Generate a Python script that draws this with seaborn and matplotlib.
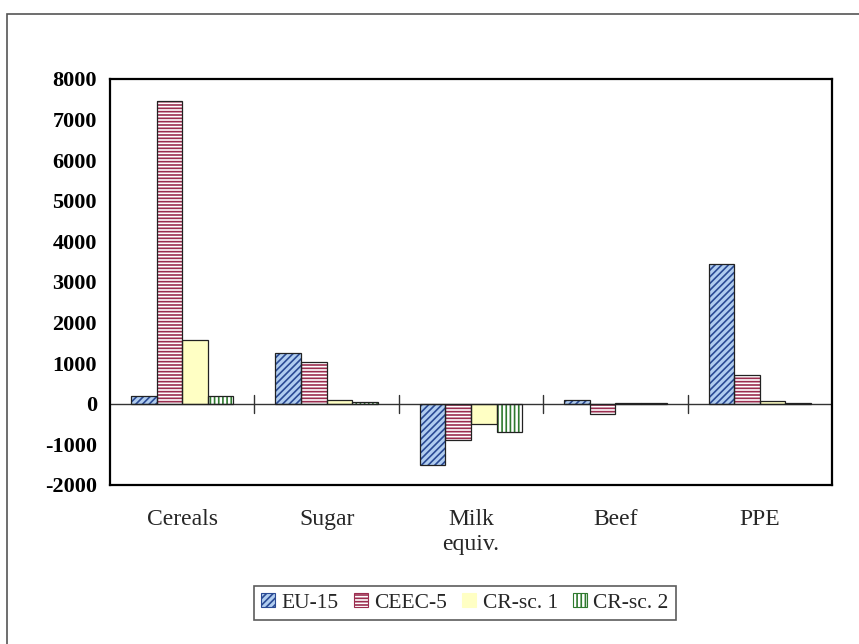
import numpy as np
import pandas as pd
import matplotlib
matplotlib.use("Agg")
import matplotlib.pyplot as plt
import seaborn as sns
from matplotlib.patches import Patch, Rectangle

categories = ["Cereals", "Sugar", "Milk\nequiv.", "Beef", "PPE"]
series = ["EU-15", "CEEC-5", "CR-sc. 1", "CR-sc. 2"]
eu15 = [200, 1260, -1500, 90, 3450]
ceec5 = [7450, 1040, -900, -240, 720]
crsc1 = [1560, 90, -500, 15, 80]
crsc2 = [200, 40, -700, 30, 30]
yticks = [-2000, -1000, 0, 1000, 2000, 3000, 4000, 5000, 6000, 7000, 8000]

df = pd.DataFrame({
    "category": categories * 4,
    "series": [s for s in series for _ in categories],
    "value": eu15 + ceec5 + crsc1 + crsc2,
})

sns.set_style("white")
plt.rcParams["font.family"] = ["Liberation Serif", "DejaVu Serif"]
plt.rcParams["hatch.linewidth"] = 1.2

styles = {
    "EU-15": dict(face="#b0cdf0", hatch="/////", hc="#2a4a94"),
    "CEEC-5": dict(face="#ffffff", hatch="-----", hc="#9b2d4f"),
    "CR-sc. 1": dict(face="#ffffc4", hatch="", hc="#ffffc4"),
    "CR-sc. 2": dict(face="#ffffff", hatch="||||", hc="#2f7a2f"),
}

fig = plt.figure(figsize=(8.59, 6.44), dpi=100)
ax = fig.add_axes([110 / 859, 1 - 485 / 644, (832 - 110) / 859, (485 - 79) / 644])

sns.barplot(data=df, x="category", y="value", hue="series", hue_order=series,
            order=categories, width=0.71, dodge=True, legend=False, ax=ax,
            errorbar=None, saturation=1)

for cont, s in zip(ax.containers, series):
    st = styles[s]
    for p in cont:
        p.set_facecolor(st["face"])
        p.set_edgecolor(st["hc"])
        p.set_hatch(st["hatch"])
        p.set_linewidth(0)
        ax.add_patch(Rectangle(p.get_xy(), p.get_width(), p.get_height(),
                               fill=False, edgecolor="#222222", lw=0.9, zorder=p.get_zorder() + 0.1))

ax.set_xlim(-0.5, len(categories) - 0.5)
ax.set_ylim(yticks[0], yticks[-1])
ax.set_yticks(yticks)
ax.set_yticklabels([str(v) for v in yticks], fontsize=16, fontweight="bold")
ax.tick_params(axis="y", direction="inout", length=7, width=1, colors="black", pad=6)
ax.tick_params(axis="x", length=0, pad=17)
ax.set_xticks(range(len(categories)))
ax.set_xticklabels(categories, fontsize=17, linespacing=1.3)
ax.set_xlabel("")
ax.set_ylabel("")

ax.axhline(0, color="#333333", lw=1.0, zorder=1)
for b in np.arange(len(categories) - 1) + 0.5:
    ax.plot([b, b], [-220, 220], color="#333333", lw=1.0, zorder=1)

for sp in ax.spines.values():
    sp.set_visible(True)
    sp.set_color("black")
    sp.set_linewidth(1.6)

handles = [Patch(facecolor=styles[s]["face"], edgecolor=styles[s]["hc"], hatch=styles[s]["hatch"],
                 linewidth=0.8, label=s) for s in series]
leg = fig.legend(handles=handles, loc="center", bbox_to_anchor=(465 / 859, 1 - 603 / 644),
                 ncol=4, fontsize=15.5, frameon=True, fancybox=False, edgecolor="#333333",
                 handlelength=0.65, handleheight=0.65, handletextpad=0.3, columnspacing=0.7,
                 borderpad=0.35, borderaxespad=0)
leg.get_frame().set_linewidth(1.2)

fig.patches.append(Rectangle((7 / 859, -0.1), 2, 1.1 - 14 / 644, transform=fig.transFigure,
                             fill=False, edgecolor="#555555", lw=1.2))

fig.savefig("out.png", dpi=100, facecolor="white")
